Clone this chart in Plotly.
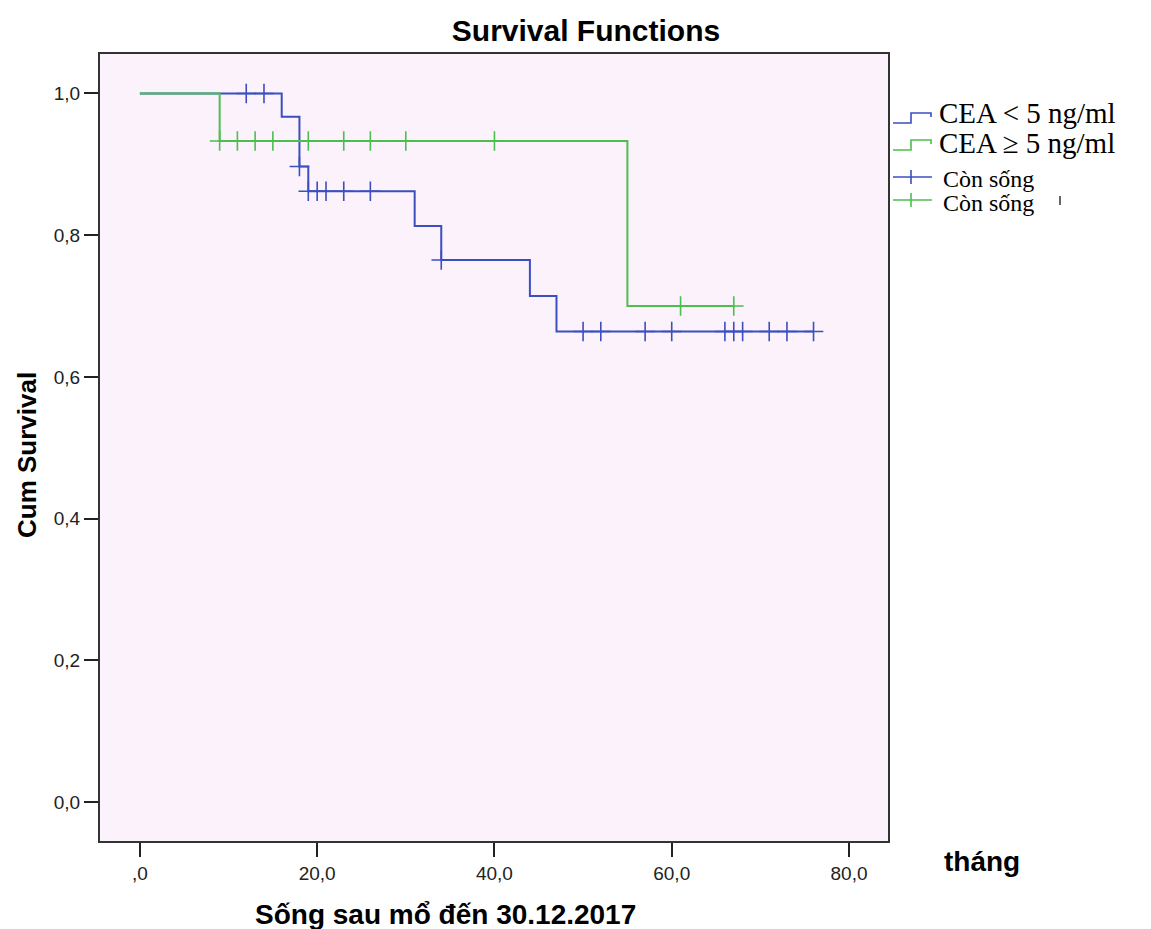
import numpy as np
import plotly.graph_objects as go

# Kaplan-Meier step curves (time in months, cumulative survival)
low_cea_times = [0, 16, 18, 19, 31, 34, 44, 47, 76]
low_cea_surv = [1.0, 0.967, 0.897, 0.862, 0.813, 0.765, 0.714, 0.664, 0.664]
low_cea_censored = [12, 14, 18, 19, 20, 21, 23, 26, 34, 50, 52, 57, 60, 66, 67, 68, 71, 73, 76]

high_cea_times = [0, 9, 55, 67]
high_cea_surv = [1.0, 0.933, 0.70, 0.70]
high_cea_censored = [9, 11, 13, 15, 19, 23, 26, 30, 40, 61, 67]

x_ticks = [0, 20, 40, 60, 80]
x_tick_labels = [",0", "20,0", "40,0", "60,0", "80,0"]
y_ticks = [0.0, 0.2, 0.4, 0.6, 0.8, 1.0]
y_tick_labels = ["0,0", "0,2", "0,4", "0,6", "0,8", "1,0"]

legend_labels = ["CEA < 5 ng/ml", "CEA \u2265 5 ng/ml", "Còn sống", "Còn sống"]

BLUE = "#3B4FBF"
GREEN = "#4CBF4C"

W, H = 1151, 929
L, R, T, B = 100, 888, 54, 841  # plot area in pixels


def surv_at(times, surv, t):
    """Right-continuous step value of the survival curve at time t."""
    idx = np.searchsorted(np.asarray(times), t, side="right") - 1
    return surv[int(idx)]


def px(x):
    return (x - L) / (R - L)


def py(y):
    return (B - y) / (B - T)


fig = go.Figure()

for times, surv, censored, color in [
    (low_cea_times, low_cea_surv, low_cea_censored, BLUE),
    (high_cea_times, high_cea_surv, high_cea_censored, GREEN),
]:
    fig.add_trace(go.Scatter(
        x=times, y=surv, mode="lines", line=dict(color=color, width=2, shape="hv"),
        showlegend=False, hoverinfo="skip",
    ))
    fig.add_trace(go.Scatter(
        x=censored, y=[surv_at(times, surv, t) for t in censored], mode="markers",
        marker=dict(symbol="cross-thin", size=14, line=dict(color=color, width=1.6)),
        showlegend=False, hoverinfo="skip",
    ))

# Legend drawn by hand: step icons for the curves, crosses for censored cases
shapes = []
annotations = []
serif = "Liberation Serif, Times New Roman, serif"


def step_icon(y_low, color):
    path = (f"M {px(893)},{py(y_low)} L {px(911)},{py(y_low)} L {px(911)},{py(y_low - 10)} "
            f"L {px(931)},{py(y_low - 10)} L {px(931)},{py(y_low - 6)}")
    shapes.append(dict(type="path", path=path, xref="paper", yref="paper",
                       line=dict(color=color, width=1.6)))


def cross_icon(y_mid, color):
    shapes.append(dict(type="line", xref="paper", yref="paper", x0=px(893), x1=px(932),
                       y0=py(y_mid), y1=py(y_mid), line=dict(color=color, width=1.6)))
    shapes.append(dict(type="line", xref="paper", yref="paper", x0=px(911), x1=px(911),
                       y0=py(y_mid - 7), y1=py(y_mid + 7), line=dict(color=color, width=1.6)))


def legend_text(text, x, y, size):
    annotations.append(dict(text=text, xref="paper", yref="paper", x=px(x), y=py(y),
                            xanchor="left", yanchor="middle", showarrow=False,
                            font=dict(family=serif, size=size, color="#000000")))


step_icon(123, BLUE)
legend_text(legend_labels[0], 937, 113, 29)
step_icon(150, GREEN)
legend_text(legend_labels[1], 937, 143, 29)
cross_icon(177, BLUE)
legend_text(legend_labels[2], 941, 179, 24)
cross_icon(200, GREEN)
legend_text(legend_labels[3], 941, 203, 24)
shapes.append(dict(type="line", xref="paper", yref="paper", x0=px(1060), x1=px(1060),
                   y0=py(196), y1=py(205), line=dict(color="#000000", width=1.2)))

sans = "Liberation Sans, Arial, sans-serif"
annotations.append(dict(text="<b>Cum Survival</b>", textangle=-90, xref="paper", yref="paper",
                        x=px(27), y=py(455), xanchor="center", yanchor="middle", showarrow=False,
                        font=dict(family=sans, size=26, color="#000000")))
annotations.append(dict(text="<b>Sống sau mổ đến 30.12.2017</b>", xref="paper", yref="paper",
                        x=px(445), y=py(914), xanchor="center", yanchor="middle", showarrow=False,
                        font=dict(family=sans, size=28, color="#000000")))
annotations.append(dict(text="<b>tháng</b>", xref="paper", yref="paper",
                        x=px(942), y=py(861), xanchor="left", yanchor="middle", showarrow=False,
                        font=dict(family=sans, size=28, color="#000000")))

fig.update_layout(
    width=W, height=H,
    margin=dict(l=L, r=W - R, t=T, b=H - B),
    paper_bgcolor="#FFFFFF",
    plot_bgcolor="#FBF2FB",
    title=dict(text="<b>Survival Functions</b>", x=586 / W, xref="container", xanchor="center",
               y=1 - 30 / H, yref="container", yanchor="middle",
               font=dict(family=sans, size=30, color="#000000")),
    shapes=shapes,
    annotations=annotations,
    showlegend=False,
)

axis_common = dict(
    showline=True, mirror=True, linecolor="#333333", linewidth=2,
    ticks="outside", ticklen=14, tickwidth=2, tickcolor="#222222",
    showgrid=False, zeroline=False,
    tickfont=dict(family=sans, size=19, color="#222222"),
)
fig.update_xaxes(range=[-4.5, 84.4], tickvals=x_ticks, ticktext=x_tick_labels, **axis_common)
fig.update_yaxes(range=[-0.055, 1.0557], tickvals=y_ticks, ticktext=y_tick_labels, **axis_common)

fig.write_html("out.html")
